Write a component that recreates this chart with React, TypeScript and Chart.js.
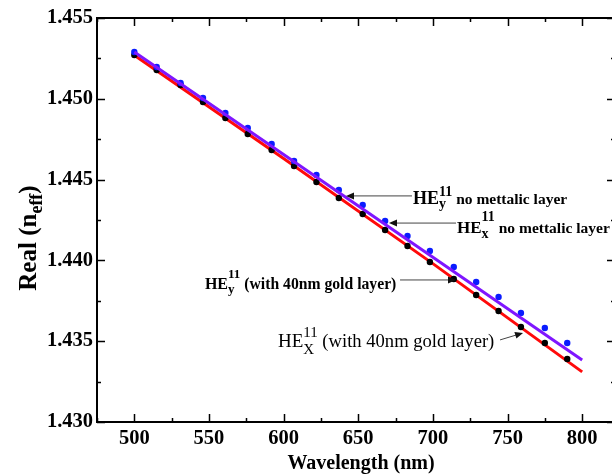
import React, { useEffect, useRef } from 'react';
import { Chart, registerables } from 'chart.js';

Chart.register(...registerables);

// ---- data ----
const wavelengths = [500, 515, 531, 546, 561, 576, 592, 607, 622, 637, 653, 668, 683, 698, 714, 729, 744, 759, 775, 790];
const heyGold = [1.45271, 1.45178, 1.45085, 1.4498, 1.44881, 1.44782, 1.44683, 1.44584, 1.44485, 1.44386, 1.44287, 1.44188, 1.44089, 1.4399, 1.43885, 1.43786, 1.43687, 1.43588, 1.43489, 1.4339];
const heyNoMetal = [1.4529, 1.45197, 1.45098, 1.45005, 1.44912, 1.44819, 1.4472, 1.44615, 1.44529, 1.44436, 1.44343, 1.44244, 1.44151, 1.44058, 1.43959, 1.43866, 1.43774, 1.43675, 1.43582, 1.43489];
const lineX = [500, 600, 700, 800];
const hexGold = [1.4527, 1.4463, 1.4398, 1.4331];
const hexNoMetal = [1.4529, 1.44655, 1.4402, 1.43384];

const xTickLabels = [500, 550, 600, 650, 700, 750, 800];
const yTickLabels = [1.43, 1.435, 1.44, 1.445, 1.45, 1.455];

const xTitle = 'Wavelength (nm)';
const yTitleMain = 'Real (n';
const yTitleSub = 'eff';
const yTitleEnd = ')';

// annotations: anchored in data coordinates
const annotations = [
  { sub: 'y', rest: ' no mettalic layer', bold: true, text: [686.7, 1.44349], tail: [686.0, 1.44399], tip: [641.8, 1.44399], heSize: 18, smallSize: 14, restSize: 15.5, supDy: -8, subDy: 4 },
  { sub: 'x', rest: ' no mettalic layer', bold: true, text: [716.2, 1.4417], tail: [715.5, 1.44231], tip: [670.6, 1.44231], heSize: 17, smallSize: 14, restSize: 15.5, supDy: -12, subDy: 5 },
  { sub: 'y', rest: ' (with 40nm gold layer)', bold: true, text: [547.3, 1.43823], tail: [678.0, 1.43879], tip: [715.5, 1.43879], heSize: 16, smallSize: 13, restSize: 15.7, supDy: -11, subDy: 4 },
  { sub: 'X', rest: ' (with 40nm gold layer)', bold: false, text: [596.2, 1.43464], tail: [745.0, 1.43508], tip: [760.4, 1.43551], heSize: 19, smallSize: 15, restSize: 18.6, supDy: -10, subDy: 7 },
];

const SERIF = '"Liberation Serif", "Times New Roman", serif';

const overlayPlugin = {
  id: 'overlay',
  afterDraw(chart: any) {
    const { ctx, chartArea: a } = chart;
    const xs = chart.scales.x;
    const ys = chart.scales.y;
    ctx.save();
    // frame
    ctx.strokeStyle = '#000';
    ctx.lineWidth = 2;
    ctx.strokeRect(a.left, a.top, a.right - a.left, a.bottom - a.top);
    // ticks (inward, major + minor)
    ctx.lineWidth = 1.5;
    ctx.beginPath();
    for (let v = 475; v <= xs.max + 0.001; v += 25) {
      const px = Math.round(xs.getPixelForValue(v)) + 0.5;
      const len = v % 50 === 0 ? 8 : 4;
      ctx.moveTo(px, a.bottom);
      ctx.lineTo(px, a.bottom - len);
      ctx.moveTo(px, a.top);
      ctx.lineTo(px, a.top + len);
    }
    for (let i = 0; i <= 10; i++) {
      const v = 1.43 + i * 0.0025;
      const py = Math.round(ys.getPixelForValue(v)) + 0.5;
      const len = i % 2 === 0 ? 8 : 4;
      ctx.moveTo(a.left, py);
      ctx.lineTo(a.left + len, py);
      ctx.moveTo(a.right, py);
      ctx.lineTo(a.right - len, py);
    }
    ctx.stroke();

    // axis titles
    ctx.fillStyle = '#000';
    ctx.textBaseline = 'alphabetic';
    ctx.font = `bold 20px ${SERIF}`;
    ctx.textAlign = 'center';
    ctx.fillText(xTitle, 361, 469);

    // y title rotated with subscript
    ctx.save();
    ctx.translate(36, 238);
    ctx.rotate(-Math.PI / 2);
    ctx.textAlign = 'left';
    const fMain = `bold 25px ${SERIF}`;
    const fSub = `bold 18px ${SERIF}`;
    ctx.font = fMain;
    const w1 = ctx.measureText(yTitleMain).width;
    const w3 = ctx.measureText(yTitleEnd).width;
    ctx.font = fSub;
    const w2 = ctx.measureText(yTitleSub).width;
    const total = w1 + w2 + w3;
    let cx = -total / 2;
    ctx.font = fMain;
    ctx.fillText(yTitleMain, cx, 0);
    cx += w1;
    ctx.font = fSub;
    ctx.fillText(yTitleSub, cx, 6);
    cx += w2;
    ctx.font = fMain;
    ctx.fillText(yTitleEnd, cx, 0);
    ctx.restore();

    // annotations
    for (const an of annotations) {
      const weight = an.bold ? 'bold ' : '';
      const tx = xs.getPixelForValue(an.text[0]);
      const ty = ys.getPixelForValue(an.text[1]);
      ctx.textAlign = 'left';
      ctx.fillStyle = '#000';
      ctx.font = `${weight}${an.heSize}px ${SERIF}`;
      ctx.fillText('HE', tx, ty);
      let x = tx + ctx.measureText('HE').width;
      ctx.font = `${weight}${an.smallSize}px ${SERIF}`;
      ctx.fillText('11', x, ty + an.supDy);
      ctx.fillText(an.sub, x, ty + an.subDy);
      x += Math.max(ctx.measureText('11').width, ctx.measureText(an.sub).width);
      ctx.font = `${weight}${an.restSize}px ${SERIF}`;
      ctx.fillText(an.rest, x, ty);

      // arrow
      const x1 = xs.getPixelForValue(an.tail[0]);
      const y1 = ys.getPixelForValue(an.tail[1]);
      const x2 = xs.getPixelForValue(an.tip[0]);
      const y2 = ys.getPixelForValue(an.tip[1]);
      const ang = Math.atan2(y2 - y1, x2 - x1);
      ctx.strokeStyle = '#444';
      ctx.lineWidth = 1;
      ctx.beginPath();
      ctx.moveTo(x1, y1);
      ctx.lineTo(x2 - 6 * Math.cos(ang), y2 - 6 * Math.sin(ang));
      ctx.stroke();
      ctx.fillStyle = '#111';
      ctx.beginPath();
      ctx.moveTo(x2, y2);
      ctx.lineTo(x2 - 8 * Math.cos(ang) + 3.5 * Math.sin(ang), y2 - 8 * Math.sin(ang) - 3.5 * Math.cos(ang));
      ctx.lineTo(x2 - 8 * Math.cos(ang) - 3.5 * Math.sin(ang), y2 - 8 * Math.sin(ang) + 3.5 * Math.cos(ang));
      ctx.closePath();
      ctx.fill();
    }
    ctx.restore();
  },
};

export default function App() {
  const ref = useRef<HTMLCanvasElement | null>(null);
  useEffect(() => {
    if (!ref.current) return;
    const tickFont = { family: SERIF, size: 20.5, weight: 'bold' as const };
    const chart = new Chart(ref.current, {
      type: 'line',
      data: {
        datasets: [
          {
            label: 'HEx no metallic layer',
            data: lineX.map((x, i) => ({ x, y: hexNoMetal[i] })),
            borderColor: '#7f16ff',
            borderWidth: 3,
            pointRadius: 0,
            fill: false,
            order: 0,
          },
          {
            label: 'HEy no metallic layer',
            data: wavelengths.map((x, i) => ({ x, y: heyNoMetal[i] })),
            showLine: false,
            pointRadius: 3.2,
            pointBackgroundColor: '#0a1cff',
            pointBorderColor: '#0a1cff',
            pointBorderWidth: 0,
            order: 1,
          },
          {
            label: 'HEy with 40nm gold layer',
            data: wavelengths.map((x, i) => ({ x, y: heyGold[i] })),
            showLine: false,
            pointRadius: 3.2,
            pointBackgroundColor: '#000',
            pointBorderColor: '#000',
            pointBorderWidth: 0,
            order: 2,
          },
          {
            label: 'HEx with 40nm gold layer',
            data: lineX.map((x, i) => ({ x, y: hexGold[i] })),
            borderColor: '#ff0a0a',
            borderWidth: 3,
            pointRadius: 0,
            fill: false,
            order: 3,
          },
        ],
      },
      options: {
        responsive: false,
        animation: false,
        layout: { padding: { top: 18, left: 0, right: 0, bottom: 0 } },
        plugins: { legend: { display: false }, tooltip: { enabled: false } },
        scales: {
          x: {
            type: 'linear',
            min: 475,
            max: 822,
            afterBuildTicks: (s: any) => {
              s.ticks = xTickLabels.map((v) => ({ value: v }));
            },
            afterFit: (s: any) => {
              s.height = 53;
            },
            ticks: { font: tickFont, color: '#000', padding: 4, autoSkip: false, maxRotation: 0 },
            grid: { display: false, drawTicks: false },
            border: { display: false },
          },
          y: {
            type: 'linear',
            min: 1.43,
            max: 1.455,
            afterBuildTicks: (s: any) => {
              s.ticks = yTickLabels.map((v) => ({ value: v }));
            },
            afterFit: (s: any) => {
              s.width = 97;
            },
            ticks: {
              font: tickFont,
              color: '#000',
              padding: 4,
              callback: (v: any) => Number(v).toFixed(3),
            },
            grid: { display: false, drawTicks: false },
            border: { display: false },
          },
        },
      },
      plugins: [overlayPlugin],
    });
    return () => chart.destroy();
  }, []);

  return (
    <div style={{ position: 'fixed', left: 0, top: 0, width: 612, height: 475, overflow: 'hidden', background: '#fff' }}>
      <canvas ref={ref} width={619} height={475} style={{ display: 'block', width: 619, height: 475 }} />
    </div>
  );
}
